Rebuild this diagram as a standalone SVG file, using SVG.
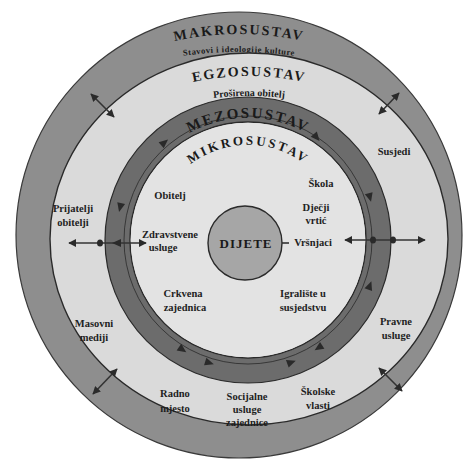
<svg xmlns="http://www.w3.org/2000/svg" width="475" height="466" viewBox="0 0 475 466">
<style>
.lbl{font-family:"Liberation Serif","DejaVu Serif",serif;font-weight:bold;font-size:10.5px;fill:#1e1e1e;text-anchor:middle}
.hd{font-family:"Liberation Serif","DejaVu Serif",serif;font-weight:bold;fill:#1a1a1a;text-anchor:middle}
.ln{stroke:#333;stroke-width:1.6;fill:none}
.ah{fill:#2a2a2a}
</style>
<defs>
<marker id="h" viewBox="0 0 10 10" refX="9" refY="5" markerWidth="5" markerHeight="5" orient="auto-start-reverse"><path d="M0,0 L10,5 L0,10 Z" fill="#2a2a2a"/></marker>
<path id="ah" d="M4,0 L-5,-4 L-5,4 Z"/>
<path id="pMak" d="M89,74.2 A300,300 0 0 1 389,74.2"/>
<path id="pMakS" d="M69,89.9 A400,400 0 0 1 409,89.9"/>
<path id="pEgz" d="M109,116.9 A260,260 0 0 1 389,116.9"/>
<path id="pEgzS" d="M129,121 A300,300 0 0 1 369,121"/>
<path id="pMez" d="M142.3,179 A122,122 0 0 1 353.7,179"/>
<path id="pMik" d="M165.7,192.5 A95,95 0 0 1 330.3,192.5"/>
</defs>
<rect width="475" height="466" fill="#ffffff"/>
<g id="makrosustav">
<circle cx="239" cy="235" r="223" fill="#8e8e8e" stroke="#3a3a3a" stroke-width="1.2"/>
<text class="hd" font-size="14" letter-spacing="2"><textPath href="#pMak" startOffset="50%">MAKROSUSTAV</textPath></text>
<text class="hd" font-size="8.5" letter-spacing="0.5"><textPath href="#pMakS" startOffset="50%">Stavovi i ideologije kulture</textPath></text>
</g>
<g id="egzosustav">
<ellipse cx="249" cy="239" rx="199" ry="186" fill="#dadada" stroke="#2a2a2a" stroke-width="1.4"/>
<text class="hd" font-size="14" letter-spacing="2"><textPath href="#pEgz" startOffset="50%">EGZOSUSTAV</textPath></text>
<text class="hd" font-size="10"><textPath href="#pEgzS" startOffset="50%">Proširena obitelj</textPath></text>
</g>
<g id="mezosustav">
<circle cx="248" cy="240" r="130.5" fill="none" stroke="#6c6c6c" stroke-width="25"/>
<circle cx="248" cy="240" r="143" fill="none" stroke="#2a2a2a" stroke-width="1.2"/>
<circle cx="248" cy="240" r="118" fill="none" stroke="#2a2a2a" stroke-width="1.4"/>
<circle cx="248" cy="240" r="124" fill="none" stroke="#2a2a2a" stroke-width="0.8"/>
<text class="hd" font-size="15" letter-spacing="2"><textPath href="#pMez" startOffset="50%">MEZOSUSTAV</textPath></text>
</g>
<g id="mikrosustav">
<circle cx="248" cy="240" r="117.3" fill="#e3e3e3"/>
<text class="hd" font-size="13" letter-spacing="2.5"><textPath href="#pMik" startOffset="50%">MIKROSUSTAV</textPath></text>
</g>
<g id="dijete">
<circle cx="245" cy="243" r="37" fill="#a6a6a6" stroke="#2a2a2a" stroke-width="1.4"/>
<text class="hd" x="246" y="247.5" font-size="13" letter-spacing="1">DIJETE</text>
</g>
<g id="obitelj"><text class="lbl" x="170" y="199">Obitelj</text></g>
<g id="zdravstvene-usluge"><text class="lbl" x="170" y="238">Zdravstvene</text><text class="lbl" x="163" y="251">usluge</text></g>
<g id="skola"><text class="lbl" x="321" y="187">Škola</text></g>
<g id="djecji-vrtic"><text class="lbl" x="316" y="211">Dječji</text><text class="lbl" x="316" y="224">vrtić</text></g>
<g id="vrsnjaci"><text class="lbl" x="313" y="246">Vršnjaci</text></g>
<g id="crkvena-zajednica"><text class="lbl" x="183" y="297">Crkvena</text><text class="lbl" x="185" y="311">zajednica</text></g>
<g id="igraliste"><text class="lbl" x="303" y="297">Igralište u</text><text class="lbl" x="303" y="311">susjedstvu</text></g>
<g id="susjedi"><text class="lbl" x="394" y="155">Susjedi</text></g>
<g id="prijatelji-obitelji"><text class="lbl" x="73" y="212">Prijatelji</text><text class="lbl" x="73" y="226">obitelji</text></g>
<g id="masovni-mediji"><text class="lbl" x="94" y="327">Masovni</text><text class="lbl" x="94" y="341">mediji</text></g>
<g id="pravne-usluge"><text class="lbl" x="396" y="325">Pravne</text><text class="lbl" x="396" y="339">usluge</text></g>
<g id="radno-mjesto"><text class="lbl" x="175" y="397">Radno</text><text class="lbl" x="175" y="412">mjesto</text></g>
<g id="socijalne-usluge"><text class="lbl" x="247" y="400">Socijalne</text><text class="lbl" x="247" y="413">usluge</text><text class="lbl" x="247" y="426">zajednice</text></g>
<g id="skolske-vlasti"><text class="lbl" x="318" y="395">Školske</text><text class="lbl" x="318" y="409">vlasti</text></g>
<g id="connectors">
<line class="ln" x1="69" y1="243" x2="146" y2="243" marker-start="url(#h)" marker-end="url(#h)"/>
<use href="#ah" class="ah" transform="translate(116,243) rotate(180)"/>
<ellipse cx="100" cy="243" rx="3" ry="3.5" class="ah"/>
<line class="ln" x1="345" y1="240" x2="425" y2="240" marker-start="url(#h)" marker-end="url(#h)"/>
<ellipse cx="373" cy="240" rx="3" ry="3.5" class="ah"/>
<ellipse cx="393" cy="240" rx="3" ry="3.5" class="ah"/>
<line class="ln" x1="282" y1="243" x2="289" y2="243"/>
<line class="ln" x1="91" y1="94" x2="114" y2="117" marker-start="url(#h)" marker-end="url(#h)"/>
<line class="ln" x1="379" y1="114" x2="399" y2="93" marker-start="url(#h)" marker-end="url(#h)"/>
<line class="ln" x1="93" y1="394" x2="117" y2="369" marker-start="url(#h)" marker-end="url(#h)"/>
<line class="ln" x1="379" y1="368" x2="402" y2="391" marker-start="url(#h)" marker-end="url(#h)"/>
<use href="#ah" class="ah" transform="translate(165,142) rotate(-40)"/>
<use href="#ah" class="ah" transform="translate(317,138) rotate(50)"/>
<use href="#ah" class="ah" transform="translate(370,198) rotate(75)"/>
<use href="#ah" class="ah" transform="translate(370,285) rotate(-70)"/>
<use href="#ah" class="ah" transform="translate(318,348) rotate(147)"/>
<use href="#ah" class="ah" transform="translate(292,362) rotate(-20)"/>
<use href="#ah" class="ah" transform="translate(210,363) rotate(17)"/>
<use href="#ah" class="ah" transform="translate(183,350) rotate(35)"/>
<use href="#ah" class="ah" transform="translate(120,208) rotate(104)"/>
</g>
</svg>
